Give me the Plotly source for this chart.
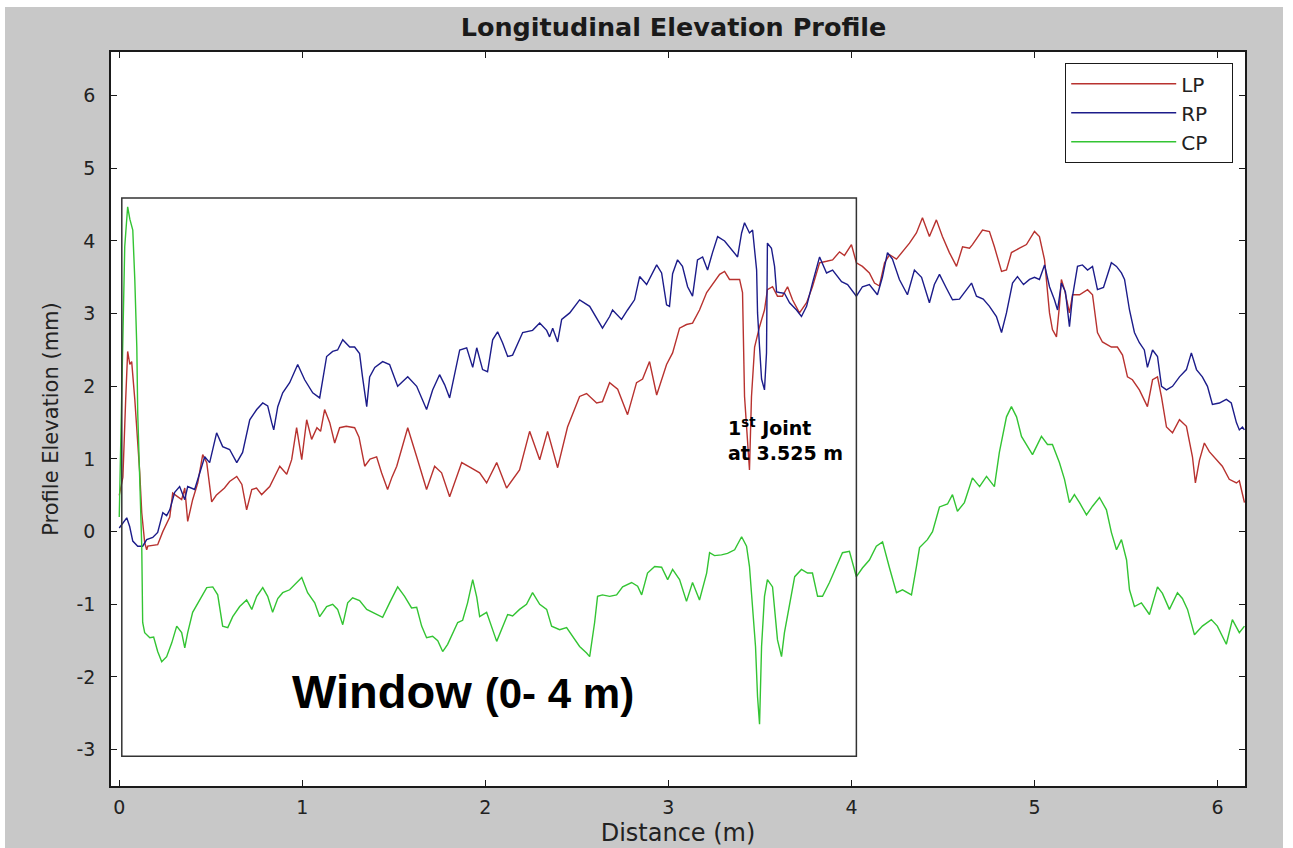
import plotly.graph_objects as go

# ---------------- data ----------------
X_TICKS = [0, 1, 2, 3, 4, 5, 6]
Y_TICKS = [-3, -2, -1, 0, 1, 2, 3, 4, 5, 6]

LP_X = [0.0, 0.02, 0.035, 0.046, 0.058, 0.068, 0.085, 0.101, 0.112, 0.123,
        0.139, 0.15, 0.156, 0.21, 0.238, 0.276, 0.292, 0.341, 0.358, 0.374,
        0.401, 0.429, 0.456, 0.478, 0.505, 0.53, 0.549, 0.575, 0.603, 0.642,
        0.67, 0.696, 0.724, 0.75, 0.778, 0.822, 0.877, 0.915, 0.942, 0.969,
        0.997, 1.024, 1.051, 1.08, 1.1, 1.122, 1.15, 1.177, 1.204, 1.24,
        1.286, 1.31, 1.341, 1.37, 1.406, 1.433, 1.466, 1.49, 1.516, 1.576,
        1.625, 1.679, 1.723, 1.761, 1.805, 1.871, 1.92, 1.969, 2.007, 2.062,
        2.116, 2.187, 2.242, 2.297, 2.34, 2.395, 2.449, 2.515, 2.553, 2.608,
        2.64, 2.679, 2.723, 2.777, 2.826, 2.859, 2.897, 2.936, 2.99, 3.023,
        3.061, 3.099, 3.132, 3.17, 3.209, 3.241, 3.28, 3.307, 3.334, 3.389,
        3.405, 3.416, 3.432, 3.443, 3.454, 3.471, 3.498, 3.525, 3.541, 3.569,
        3.596, 3.623, 3.651, 3.678, 3.716, 3.755, 3.787, 3.826, 3.864, 3.897,
        3.935, 3.962, 4.0, 4.027, 4.06, 4.098, 4.126, 4.153, 4.181, 4.208,
        4.246, 4.29, 4.317, 4.355, 4.388, 4.426, 4.464, 4.497, 4.535, 4.574,
        4.607, 4.645, 4.661, 4.716, 4.754, 4.781, 4.82, 4.847, 4.874, 4.918,
        4.956, 5.0, 5.027, 5.055, 5.082, 5.098, 5.12, 5.136, 5.147, 5.164,
        5.191, 5.208, 5.246, 5.29, 5.317, 5.344, 5.371, 5.42, 5.453, 5.481,
        5.508, 5.535, 5.573, 5.617, 5.645, 5.672, 5.694, 5.721, 5.754, 5.792,
        5.83, 5.863, 5.879, 5.901, 5.928, 5.955, 5.994, 6.026, 6.064, 6.103,
        6.119, 6.147]
LP_Y = [0.5, 0.75, 1.8, 2.48, 2.3, 2.34, 1.82, 1.27, 0.81, 0.26,
        -0.15, -0.25, -0.2, -0.18, 0.0, 0.2, 0.53, 0.44, 0.6, 0.14,
        0.44, 0.67, 1.06, 0.95, 0.41, 0.5, 0.54, 0.6, 0.69, 0.76,
        0.65, 0.3, 0.58, 0.6, 0.51, 0.62, 0.9, 0.79, 0.99, 1.43,
        0.99, 1.54, 1.27, 1.43, 1.38, 1.68, 1.5, 1.22, 1.43, 1.45,
        1.43, 1.3, 0.9, 1.0, 1.03, 0.81, 0.58, 0.75, 0.9, 1.43,
        1.03, 0.58, 0.9, 0.81, 0.48, 0.95, 0.88, 0.81, 0.67, 0.95,
        0.6, 0.85, 1.38, 0.99, 1.38, 0.88, 1.44, 1.86, 1.9, 1.77,
        1.79, 2.05, 1.96, 1.61, 2.05, 2.1, 2.34, 1.88, 2.3, 2.46,
        2.8, 2.85, 2.87, 3.05, 3.29, 3.4, 3.54, 3.58, 3.47, 3.47,
        3.29, 1.86, 1.17, 0.85, 1.86, 2.54, 2.82, 3.05, 3.33, 3.37,
        3.24, 3.24, 3.37, 3.19, 3.01, 3.15, 3.37, 3.7, 3.72, 3.74,
        3.85, 3.8, 3.95, 3.7, 3.65, 3.56, 3.42, 3.38, 3.7, 3.81,
        3.75, 3.88, 3.97, 4.11, 4.32, 4.06, 4.29, 4.06, 3.84, 3.65,
        3.92, 3.9, 3.95, 4.15, 4.13, 3.92, 3.58, 3.6, 3.84, 3.9,
        3.95, 4.13, 4.06, 3.74, 3.01, 2.78, 2.68, 3.1, 3.47, 3.33,
        3.01, 3.26, 3.26, 3.33, 3.26, 2.74, 2.61, 2.54, 2.54, 2.43,
        2.13, 2.09, 1.95, 1.72, 2.09, 2.13, 1.85, 1.44, 1.36, 1.54,
        1.45, 1.03, 0.67, 0.98, 1.22, 1.1, 0.99, 0.9, 0.72, 0.67,
        0.7, 0.4]

RP_X = [0.0, 0.014, 0.041, 0.057, 0.074, 0.101, 0.128, 0.15, 0.183, 0.21,
        0.238, 0.259, 0.276, 0.303, 0.33, 0.358, 0.374, 0.412, 0.44, 0.467,
        0.494, 0.532, 0.565, 0.603, 0.642, 0.674, 0.713, 0.751, 0.784, 0.811,
        0.833, 0.844, 0.866, 0.893, 0.931, 0.975, 1.013, 1.057, 1.095, 1.133,
        1.166, 1.193, 1.221, 1.259, 1.286, 1.313, 1.329, 1.352, 1.368, 1.396,
        1.439, 1.477, 1.521, 1.576, 1.625, 1.679, 1.712, 1.75, 1.778, 1.805,
        1.86, 1.898, 1.931, 1.953, 1.985, 2.012, 2.04, 2.067, 2.094, 2.122,
        2.149, 2.204, 2.258, 2.297, 2.335, 2.351, 2.368, 2.395, 2.417, 2.461,
        2.515, 2.57, 2.64, 2.679, 2.695, 2.744, 2.777, 2.815, 2.843, 2.881,
        2.936, 2.963, 2.99, 3.006, 3.023, 3.05, 3.077, 3.105, 3.132, 3.159,
        3.187, 3.214, 3.241, 3.269, 3.307, 3.345, 3.378, 3.4, 3.416, 3.443,
        3.46, 3.482, 3.487, 3.498, 3.509, 3.525, 3.536, 3.541, 3.563, 3.58,
        3.591, 3.607, 3.634, 3.662, 3.7, 3.727, 3.755, 3.787, 3.826, 3.864,
        3.897, 3.946, 3.979, 4.027, 4.06, 4.098, 4.142, 4.169, 4.197, 4.224,
        4.262, 4.306, 4.344, 4.383, 4.426, 4.453, 4.481, 4.519, 4.552, 4.59,
        4.656, 4.683, 4.72, 4.754, 4.792, 4.82, 4.847, 4.88, 4.907, 4.94,
        4.973, 5.0, 5.027, 5.055, 5.082, 5.109, 5.126, 5.147, 5.169, 5.191,
        5.208, 5.235, 5.262, 5.29, 5.317, 5.344, 5.377, 5.42, 5.448, 5.475,
        5.492, 5.519, 5.546, 5.573, 5.6, 5.617, 5.645, 5.672, 5.694, 5.721,
        5.754, 5.792, 5.83, 5.857, 5.885, 5.917, 5.945, 5.972, 6.01, 6.048,
        6.075, 6.103, 6.119, 6.136, 6.147]
RP_Y = [0.05, 0.1, 0.19, 0.07, -0.13, -0.2, -0.2, -0.11, -0.08, -0.01,
        0.26, 0.22, 0.3, 0.54, 0.62, 0.44, 0.62, 0.58, 0.81, 1.03,
        0.95, 1.36, 1.17, 1.13, 0.95, 1.09, 1.54, 1.68, 1.77, 1.73,
        1.5, 1.4, 1.72, 1.91, 2.05, 2.3, 2.09, 1.91, 1.84, 2.41,
        2.48, 2.5, 2.64, 2.54, 2.54, 2.45, 2.13, 1.72, 2.13, 2.26,
        2.34, 2.3, 2.0, 2.13, 2.0, 1.68, 1.95, 2.16, 2.02, 1.84,
        2.5, 2.53, 2.26, 2.53, 2.23, 2.2, 2.64, 2.75, 2.6, 2.41,
        2.43, 2.74, 2.77, 2.87, 2.77, 2.68, 2.8, 2.61, 2.92, 3.01,
        3.19, 3.1, 2.8, 2.96, 3.05, 2.92, 3.05, 3.19, 3.51, 3.4,
        3.67, 3.56, 3.12, 3.1, 3.55, 3.74, 3.65, 3.37, 3.24, 3.74,
        3.78, 3.6, 3.84, 4.06, 4.0, 3.88, 3.78, 4.11, 4.25, 4.11,
        4.15, 3.6, 3.01, 2.54, 2.1, 1.95, 2.46, 3.97, 3.9, 3.65,
        3.3, 3.29, 3.28, 3.15, 3.05, 2.96, 3.1, 3.42, 3.78, 3.56,
        3.6, 3.44, 3.4, 3.24, 3.37, 3.4, 3.26, 3.5, 3.84, 3.75,
        3.47, 3.26, 3.6, 3.5, 3.15, 3.4, 3.54, 3.35, 3.19, 3.2,
        3.42, 3.24, 3.2, 3.1, 2.96, 2.74, 3.01, 3.42, 3.51, 3.4,
        3.47, 3.5, 3.47, 3.67, 3.37, 3.19, 3.05, 3.42, 3.3, 2.82,
        3.24, 3.65, 3.67, 3.6, 3.65, 3.33, 3.36, 3.7, 3.65, 3.56,
        3.47, 3.05, 2.74, 2.6, 2.5, 2.26, 2.5, 2.41, 2.0, 1.95,
        2.0, 2.13, 2.23, 2.46, 2.23, 2.13, 2.0, 1.75, 1.77, 1.82,
        1.77, 1.5, 1.4, 1.44, 1.4]

CP_X = [0.0, 0.008, 0.019, 0.03, 0.046, 0.058, 0.074, 0.085, 0.096, 0.101,
        0.112, 0.123, 0.128, 0.139, 0.167, 0.188, 0.21, 0.232, 0.259, 0.287,
        0.314, 0.341, 0.358, 0.374, 0.401, 0.44, 0.478, 0.511, 0.538, 0.565,
        0.593, 0.62, 0.658, 0.696, 0.724, 0.751, 0.784, 0.811, 0.838, 0.866,
        0.893, 0.931, 0.969, 0.997, 1.029, 1.068, 1.095, 1.133, 1.166, 1.193,
        1.221, 1.248, 1.275, 1.313, 1.352, 1.384, 1.439, 1.477, 1.521, 1.559,
        1.597, 1.625, 1.652, 1.679, 1.712, 1.74, 1.767, 1.794, 1.822, 1.849,
        1.876, 1.903, 1.931, 1.953, 1.969, 2.007, 2.062, 2.094, 2.122, 2.149,
        2.187, 2.225, 2.258, 2.297, 2.335, 2.362, 2.406, 2.444, 2.477, 2.515,
        2.553, 2.57, 2.597, 2.613, 2.64, 2.679, 2.717, 2.75, 2.799, 2.832,
        2.854, 2.886, 2.925, 2.963, 2.996, 3.023, 3.061, 3.099, 3.132, 3.17,
        3.209, 3.225, 3.252, 3.29, 3.323, 3.362, 3.4, 3.427, 3.443, 3.46,
        3.476, 3.487, 3.498, 3.509, 3.525, 3.541, 3.569, 3.596, 3.618, 3.634,
        3.662, 3.69, 3.727, 3.76, 3.787, 3.815, 3.842, 3.88, 3.918, 3.951,
        3.989, 4.027, 4.06, 4.098, 4.136, 4.17, 4.208, 4.246, 4.279, 4.328,
        4.355, 4.372, 4.415, 4.443, 4.481, 4.525, 4.552, 4.579, 4.617, 4.661,
        4.7, 4.738, 4.781, 4.808, 4.847, 4.874, 4.902, 4.929, 4.989, 5.038,
        5.071, 5.098, 5.136, 5.164, 5.191, 5.218, 5.246, 5.284, 5.317, 5.355,
        5.393, 5.42, 5.448, 5.475, 5.503, 5.519, 5.546, 5.584, 5.628, 5.672,
        5.699, 5.737, 5.781, 5.808, 5.836, 5.874, 5.917, 5.966, 5.999, 6.048,
        6.081, 6.119, 6.147]
CP_Y = [0.2, 1.2, 3.0, 3.92, 4.47, 4.3, 4.15, 3.47, 2.54, 1.63,
        0.72, -0.2, -1.25, -1.39, -1.46, -1.45, -1.65, -1.79, -1.72, -1.53,
        -1.3, -1.39, -1.6, -1.39, -1.11, -0.94, -0.77, -0.76, -0.87, -1.3,
        -1.32, -1.17, -1.03, -0.94, -1.07, -0.89, -0.77, -0.89, -1.11, -0.92,
        -0.84, -0.8, -0.7, -0.63, -0.84, -0.98, -1.17, -1.03, -1.0, -1.07,
        -1.28, -0.98, -0.91, -0.95, -1.07, -1.11, -1.18, -0.98, -0.76, -0.89,
        -1.05, -1.04, -1.3, -1.46, -1.44, -1.5, -1.65, -1.55, -1.39, -1.25,
        -1.22, -0.98, -0.66, -0.9, -1.17, -1.11, -1.51, -1.3, -1.14, -1.16,
        -1.07, -1.0, -0.84, -1.0, -1.07, -1.3, -1.35, -1.32, -1.44, -1.58,
        -1.67, -1.72, -1.25, -0.89, -0.87, -0.89, -0.87, -0.76, -0.7, -0.75,
        -0.87, -0.57, -0.48, -0.49, -0.66, -0.52, -0.66, -0.96, -0.7, -0.94,
        -0.57, -0.29, -0.33, -0.32, -0.3, -0.25, -0.07, -0.2, -0.48, -1.03,
        -1.58, -2.27, -2.65, -1.58, -0.89, -0.66, -0.76, -1.49, -1.72, -1.39,
        -1.03, -0.62, -0.52, -0.57, -0.57, -0.89, -0.89, -0.7, -0.48, -0.29,
        -0.27, -0.62, -0.5, -0.39, -0.2, -0.14, -0.5, -0.84, -0.8, -0.87,
        -0.48, -0.22, -0.11, 0.0, 0.34, 0.38, 0.51, 0.28, 0.4, 0.74,
        0.62, 0.76, 0.62, 1.09, 1.58, 1.72, 1.58, 1.31, 1.06, 1.31,
        1.2, 1.2, 0.95, 0.72, 0.4, 0.51, 0.4, 0.23, 0.35, 0.47,
        0.3, -0.01, -0.25, -0.11, -0.39, -0.8, -1.03, -0.98, -1.14, -0.76,
        -0.85, -1.07, -0.84, -0.92, -1.07, -1.42, -1.3, -1.21, -1.3, -1.55,
        -1.21, -1.39, -1.3]

assert len(LP_X) == len(LP_Y), (len(LP_X), len(LP_Y))
assert len(RP_X) == len(RP_Y), (len(RP_X), len(RP_Y))
assert len(CP_X) == len(CP_Y), (len(CP_X), len(CP_Y))

SERIES = [("LP", LP_X, LP_Y, "#b8322f"),
          ("RP", RP_X, RP_Y, "#1c1c8a"),
          ("CP", CP_X, CP_Y, "#33c433")]

# window box (0-4 m) drawn around the analysed stretch
WIN_X0, WIN_X1, WIN_Y0, WIN_Y1 = 0.014, 4.027, -3.09, 4.59

# ---------------- figure ----------------
W, H = 1293, 848
ML, MR, MT, MB = 111, 48, 52, 62
PW, PH = W - ML - MR, H - MT - MB


def px2paper_x(px):
    return (px - ML) / PW


def px2paper_y(py):
    return (H - MB - py) / PH


LEGEND_PAD = "&nbsp;&nbsp;&nbsp;"

fig = go.Figure()
for name, xs, ys, col in SERIES:
    fig.add_trace(go.Scatter(x=xs, y=ys, mode="lines", name=name + LEGEND_PAD,
                             line=dict(color=col, width=1.4)))

FONT = "DejaVu Sans"
axis_common = dict(showgrid=False, zeroline=False, showline=True,
                   linecolor="#1a1a1a", linewidth=1.5, mirror="ticks",
                   ticks="inside", ticklen=6, tickwidth=1.2, tickcolor="#1a1a1a",
                   tickfont=dict(family=FONT, size=19, color="#222222"))

fig.update_layout(
    width=W, height=H,
    margin=dict(l=ML, r=MR, t=MT, b=MB, autoexpand=False),
    paper_bgcolor="white",
    plot_bgcolor="white",
    title=dict(text="<b>Longitudinal Elevation Profile</b>",
               font=dict(family=FONT, size=25.5, color="#1a1a1a"),
               x=px2paper_x(673.5), xref="paper", xanchor="center",
               y=1 - 27 / H, yref="container", yanchor="middle"),
    xaxis=dict(range=[-0.045, 6.15], tickvals=X_TICKS,
               ticktext=[str(v) for v in X_TICKS], ticklabelstandoff=3,
               title=dict(text="Distance (m)", standoff=8,
                          font=dict(family=FONT, size=24, color="#222222")),
               **axis_common),
    yaxis=dict(range=[-3.5, 6.6], tickvals=Y_TICKS,
               ticktext=[str(v) for v in Y_TICKS],
               ticklabelstandoff=10,
               title=dict(text="Profile Elevation (mm)", standoff=12,
                          font=dict(family=FONT, size=21, color="#222222")),
               **axis_common),
    legend=dict(x=px2paper_x(1233), y=px2paper_y(63), xanchor="right",
                yanchor="top", bgcolor="white", bordercolor="#1a1a1a",
                borderwidth=1.2, itemwidth=105,
                font=dict(family=FONT, size=20, color="#222222")),
    showlegend=True,
)

# grey figure background with a thin white border, plot area white on top
fig.add_shape(type="rect", xref="paper", yref="paper",
              x0=px2paper_x(5), x1=px2paper_x(1283),
              y0=px2paper_y(848), y1=px2paper_y(7),
              fillcolor="#c8c8c8", line=dict(width=0), layer="below")
fig.add_shape(type="rect", xref="paper", yref="paper", x0=0, x1=1, y0=0, y1=1,
              fillcolor="white", line=dict(width=0), layer="below")

# window rectangle
fig.add_shape(type="rect", xref="x", yref="y",
              x0=WIN_X0, x1=WIN_X1, y0=WIN_Y0, y1=WIN_Y1,
              line=dict(color="#333333", width=1.5), fillcolor="rgba(0,0,0,0)",
              layer="above")

fig.add_annotation(x=1.879, y=-2.2, xref="x", yref="y",
                   text="<b>Window <span style=\"font-size:42px\">(0- 4 m)</span></b>",
                   showarrow=False, xanchor="center", yanchor="middle",
                   font=dict(family="Liberation Sans", size=47, color="black"))

fig.add_annotation(x=3.312, y=1.27, xref="x", yref="y",
                   text="<b>1<sup>st</sup> Joint<br>at 3.525 m</b>",
                   showarrow=False, xanchor="left", yanchor="middle", align="left",
                   font=dict(family=FONT, size=19, color="black"))

fig.write_html("out.html")
